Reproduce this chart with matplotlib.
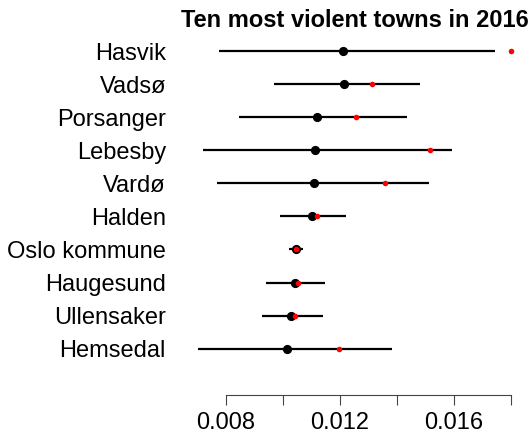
import numpy as np
import matplotlib.pyplot as plt

plt.rcParams['font.family'] = ['Liberation Sans', 'DejaVu Sans']

towns = ['Hasvik', 'Vadsø', 'Porsanger', 'Lebesby', 'Vardø',
         'Halden', 'Oslo kommune', 'Haugesund', 'Ullensaker', 'Hemsedal']
est = [0.01213, 0.01214, 0.01122, 0.01115, 0.01111,
       0.01102, 0.01046, 0.01042, 0.01029, 0.01015]
lower = [0.00778, 0.00971, 0.00846, 0.00722, 0.00770,
         0.00989, 0.01021, 0.00942, 0.00926, 0.00703]
upper = [0.01744, 0.01483, 0.01436, 0.01594, 0.01513,
         0.01223, 0.01073, 0.01150, 0.01141, 0.01385]
raw = [0.01801, 0.01314, 0.01256, 0.01517, 0.01357,
       0.01119, 0.01047, 0.01054, 0.01043, 0.01197]

ypos = np.arange(len(towns))[::-1] + 1

fig = plt.figure(figsize=(5.32, 4.36), dpi=100)
ax = fig.add_axes([185.4/532, 41/436, (523.7-185.4)/532, (395-37.8)/436])

ax.hlines(ypos, lower, upper, color='black', lw=1.6, zorder=1)
ax.plot(est, ypos, 'o', color='black', ms=5.6, zorder=2)
ax.plot(raw, ypos, 'o', color='red', ms=4.0, mew=0, zorder=3)

ax.set_xlim(0.00659, 0.01845)
ax.set_ylim(-0.4, 10.4)

ax.set_xticks([0.008, 0.010, 0.012, 0.014, 0.016, 0.018])
ax.set_xticklabels(['0.008', '', '0.012', '', '0.016', ''])
ax.set_yticks(ypos)
ax.set_yticklabels(towns)
ax.tick_params(axis='x', length=7.2, width=0.8, color='#444444', pad=5, labelsize=17)
ax.tick_params(axis='y', length=0, pad=14, labelsize=17)

for s in ['top', 'right', 'left']:
    ax.spines[s].set_visible(False)
ax.spines['bottom'].set_bounds(0.008, 0.018)
ax.spines['bottom'].set_color('#444444')

ax.set_title('Ten most violent towns in 2016', fontsize=17, fontweight='bold', pad=8)

fig.savefig('out.png', dpi=100)
